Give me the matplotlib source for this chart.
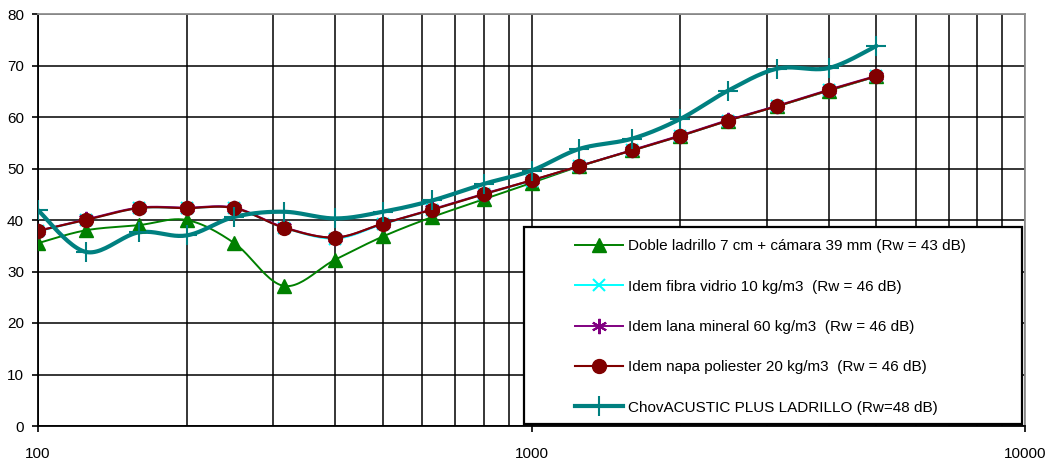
import numpy as np
import matplotlib
matplotlib.use("Agg")
import matplotlib.pyplot as plt
from matplotlib.ticker import FixedLocator, NullFormatter, FixedFormatter
from matplotlib.patches import Rectangle

plt.rcParams['font.family'] = ['Liberation Sans', 'DejaVu Sans']

freqs = [100, 125, 160, 200, 250, 315, 400, 500, 630, 800, 1000,
         1250, 1600, 2000, 2500, 3150, 4000, 5000]

doble_ladrillo = [35.5, 38.0, 39.0, 40.0, 35.5, 27.2, 32.3, 36.8, 40.6, 44.0, 47.2,
                  50.4, 53.5, 56.3, 59.3, 62.1, 65.1, 67.9]
fibra_vidrio = [37.8, 40.0, 42.3, 42.3, 42.3, 38.5, 36.4, 39.2, 42.0, 45.0, 47.6,
                50.5, 53.5, 56.3, 59.3, 62.1, 65.2, 67.9]
lana_mineral = [37.9, 40.1, 42.4, 42.4, 42.4, 38.6, 36.6, 39.3, 42.1, 45.1, 47.7,
                50.5, 53.6, 56.4, 59.4, 62.2, 65.3, 68.0]
napa_poliester = [37.9, 40.0, 42.3, 42.3, 42.3, 38.5, 36.6, 39.3, 42.0, 45.0, 47.7,
                  50.5, 53.5, 56.3, 59.3, 62.1, 65.2, 67.9]
chovacustic = [41.9, 33.8, 37.6, 37.0, 40.6, 41.6, 40.3, 41.6, 43.8, 47.0, 49.6,
               53.8, 55.8, 59.6, 65.1, 69.4, 69.5, 73.8]

labels = ["Doble ladrillo 7 cm + cámara 39 mm (Rw = 43 dB)",
          "Idem fibra vidrio 10 kg/m3  (Rw = 46 dB)",
          "Idem lana mineral 60 kg/m3  (Rw = 46 dB)",
          "Idem napa poliester 20 kg/m3  (Rw = 46 dB)",
          "ChovACUSTIC PLUS LADRILLO (Rw=48 dB)"]

y_ticks = [0, 10, 20, 30, 40, 50, 60, 70, 80]
x_major = [100, 1000, 10000]
x_labels = ["100", "1000", "10000"]


def smooth(x, y, n=24):
    u = np.log10(np.asarray(x, float))
    v = np.asarray(y, float)
    P = np.column_stack([u, v])
    P = np.vstack([P[0], P, P[-1]])
    out = []
    t = np.linspace(0, 1, n, endpoint=False)
    for i in range(1, len(P) - 2):
        p0, p1, p2, p3 = P[i - 1], P[i], P[i + 1], P[i + 2]
        c1 = p1 + (p2 - p0) / 6.0
        c2 = p2 - (p3 - p1) / 6.0
        b = ((1 - t) ** 3)[:, None] * p1 + (3 * (1 - t) ** 2 * t)[:, None] * c1 \
            + (3 * (1 - t) * t ** 2)[:, None] * c2 + (t ** 3)[:, None] * p2
        out.append(b)
    out.append(P[-2][None, :])
    out = np.vstack(out)
    return 10 ** out[:, 0], out[:, 1]


fig = plt.figure(figsize=(10.53, 4.59), dpi=100)
ax = fig.add_axes([38 / 1053, 1 - 426 / 459, 987 / 1053, 412 / 459])
ax.set_xscale('log')
ax.set_xlim(100, 10000)
ax.set_ylim(0, 80)

series = [
    (doble_ladrillo, '#008000', '^', 10, 1.4, 1.0),
    (fibra_vidrio, '#00FFFF', 'x', 9, 1.4, 1.5),
    (lana_mineral, '#800080', (6, 2, 0), 11, 1.4, 1.5),
    (napa_poliester, '#800000', 'o', 10, 1.5, 1.0),
    (chovacustic, '#008080', '+', 14, 3.0, 1.5),
]
handles = []
for (vals, col, mk, ms, lw, mew), lab in zip(series, labels):
    sx, sy = smooth(freqs, vals)
    ax.plot(sx, sy, color=col, lw=lw, zorder=3, solid_capstyle='round')
    ax.plot(freqs, vals, linestyle='none', marker=mk, ms=ms, color=col,
            mec=col, mfc=col, mew=mew, zorder=4)
    h, = ax.plot([], [], color=col, lw=lw, marker=mk, ms=ms, mec=col, mfc=col, mew=mew)
    handles.append(h)

# grid
ax.xaxis.set_major_locator(FixedLocator(x_major))
ax.xaxis.set_major_formatter(FixedFormatter(x_labels))
minor = [m * d for d in (100, 1000) for m in range(2, 10)]
ax.xaxis.set_minor_locator(FixedLocator(minor))
ax.xaxis.set_minor_formatter(NullFormatter())
ax.set_yticks(y_ticks)
ax.grid(True, which='both', axis='x', color='black', lw=1.1, zorder=1)
ax.grid(True, which='major', axis='y', color='black', lw=1.1, zorder=1)
ax.set_axisbelow(True)

ax.tick_params(axis='both', which='major', direction='out', length=4, width=1.2,
               labelsize=11, colors='black')
ax.tick_params(axis='y', which='major', pad=6)
ax.tick_params(axis='x', which='minor', length=0)
ax.tick_params(axis='x', which='major', pad=11)
for s in ('left', 'bottom'):
    ax.spines[s].set_color('black')
    ax.spines[s].set_linewidth(1.3)
for s in ('top', 'right'):
    ax.spines[s].set_color('#909090')
    ax.spines[s].set_linewidth(1.3)

# legend box
x0 = (524 - 38) / 987
x1 = (1022 - 38) / 987
y0 = (426 - 424) / 412
y1 = (426 - 227) / 412
ax.add_patch(Rectangle((x0, y0), x1 - x0, y1 - y0, transform=ax.transAxes,
                       facecolor='white', edgecolor='black', lw=1.6, zorder=5))
leg = ax.legend(handles, labels, loc='center left',
                bbox_to_anchor=((575 - 38) / 987, (426 - 327) / 412),
                frameon=False, fontsize=11, handlelength=3.15, handletextpad=0.33,
                labelspacing=1.72, borderpad=0, borderaxespad=0)
leg.set_zorder(6)

fig.savefig('out.png', dpi=100)
